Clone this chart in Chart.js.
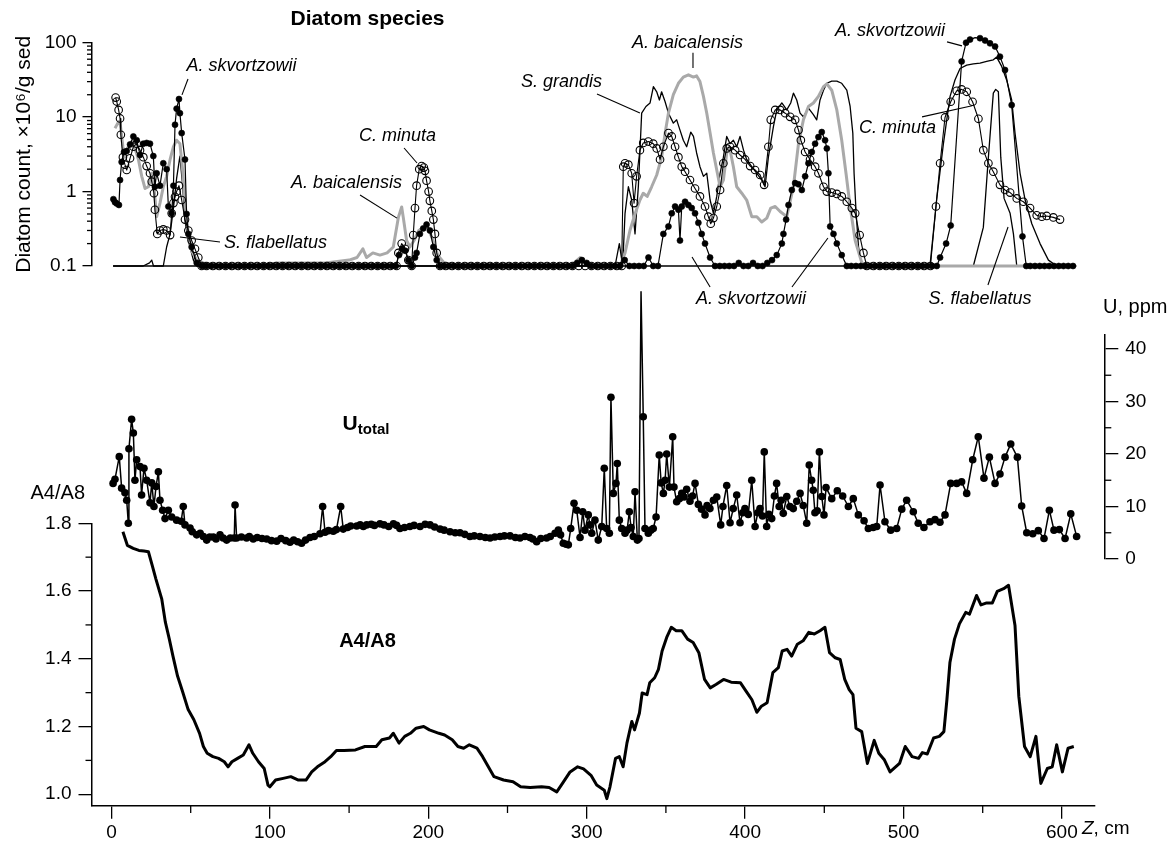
<!DOCTYPE html>
<html><head><meta charset="utf-8">
<script src="https://cdn.jsdelivr.net/npm/chart.js@4.4.0/dist/chart.umd.min.js"></script>
<style>
html,body{margin:0;padding:0;background:#fff;}
#wrap{position:relative;width:1176px;height:843px;background:#fff;}
#wrap canvas{position:absolute;left:0;top:0;}
</style></head><body>
<div id="wrap">
<canvas id="cBottom" width="1176" height="843"></canvas>
<canvas id="cU" width="1176" height="843"></canvas>
<canvas id="cTop" width="1176" height="843"></canvas>
</div>
<script>
// ---------------- DATA (depth in cm) ----------------
const skvDepth = [1.2,2.2,3.3,4.7,5.4,6.4,7.9,9.6,11.7,13.8,15.9,18.0,20.1,22.2,24.3,26.4,27.4,28.5,30.6,32.7,34.8,35.9,38.0,39.1,40.1,41.1,42.6,43.2,44.3,46.4,47.4,48.5,50.6,53.8,
57,60,63,66,69,72,75,78,81,84,87,90,93,96,99,102,105,108,111,114,117,120,123,126,129,132,135,138,141,144,147,150,153,156,159,162,165,168,171,174,177,179.5,
181.5,183.5,185.5,187.4,189.5,191.6,192.6,194.7,196.8,198.9,201,203.2,205.3,207.4,
210,213,216,219,222,225,228,231,234,237,240,243,246,249,252,255,258,261,264,267,270,273,276,279,282,285,288,291,294,297,300,303,306,309,312,315,318,321,324,327,330,333,336,339,342,345,
348.4,351.6,353.7,355.8,357.9,358.9,360,362.1,364.2,366.3,368.4,370.5,372.6,374.7,377.9,381,
384,387,390,393,396,399,402,405,408,411,414,417,420,
423.2,424.2,425.9,427.4,429.5,431.6,433.7,435.8,437.9,440,442.1,444.2,446.3,448.4,450.5,451.6,452.6,453.7,455.8,457.9,461,464.2,
467,470,473,476,479,482,485,488,491,494,497,500,503,506,509,512,515,518,521,
523.1,526.9,529.8,536.7,539.5,542,545.2,548.3,551.5,554.6,557.8,560.9,564.1,568.3,575.1,577.5,
580,583,586,589,592,595,598,601,604,607];
const skvCount = [0.79,0.72,0.69,0.66,1.43,2.5,3.4,3.5,4.3,5.5,4.9,3.1,4.4,4.5,4.4,3.0,1.16,1.76,1.2,2.4,2.0,0.63,0.51,1.2,7.9,13,17.5,11.3,6.1,2.7,0.5,0.27,0.18,0.11,
0.1,0.1,0.1,0.1,0.1,0.1,0.1,0.1,0.1,0.1,0.1,0.1,0.1,0.1,0.1,0.1,0.1,0.1,0.1,0.1,0.1,0.1,0.1,0.1,0.1,0.1,0.1,0.1,0.1,0.1,0.1,0.1,0.1,0.1,0.1,0.1,0.1,0.1,0.1,0.1,0.1,0.1,
0.14,0.17,0.16,0.12,0.1,0.13,0.15,0.27,0.32,0.36,0.3,0.18,0.12,0.1,
0.1,0.1,0.1,0.1,0.1,0.1,0.1,0.1,0.1,0.1,0.1,0.1,0.1,0.1,0.1,0.1,0.1,0.1,0.1,0.1,0.1,0.1,0.1,0.1,0.1,0.1,0.1,0.1,0.11,0.12,0.11,0.1,0.1,0.1,0.1,0.1,0.1,0.1,0.12,0.1,0.1,0.1,0.1,0.13,0.1,0.1,
0.27,0.34,0.51,0.63,0.57,0.22,0.63,0.73,0.66,0.6,0.51,0.38,0.27,0.2,0.13,0.1,
0.1,0.1,0.1,0.1,0.11,0.1,0.1,0.11,0.1,0.1,0.11,0.12,0.14,
0.2,0.27,0.42,0.66,1.05,1.3,1.25,1.05,1.6,2.4,3.4,4.4,5.4,6.3,4.9,3.8,1.76,0.34,0.27,0.2,0.14,0.1,
0.1,0.1,0.1,0.1,0.1,0.1,0.1,0.1,0.1,0.1,0.1,0.1,0.1,0.1,0.1,0.1,0.1,0.1,0.1,
0.13,0.2,0.35,56,100,110,117,115,107,98,89,65,43,14.5,0.25,0.1,
0.1,0.1,0.1,0.1,0.1,0.1,0.1,0.1,0.1,0.1];

const minDepth = [2.6,3.3,4.5,5.4,5.9,7.2,8.5,9.6,11.7,13.8,15.9,18.0,20.1,22.2,24.3,25.4,26.8,27.4,28.9,30.6,32.7,34.8,37.0,38.0,39.1,40.1,41.1,42.6,44.3,46.4,48.5,50.6,52.7,54.8,56.9,
60,64,68,72,76,80,84,88,92,96,100,104,108,112,116,120,124,128,132,136,140,144,148,152,156,160,164,168,172,176,180,
181.1,183.2,185.3,187.4,189.5,190.5,191.6,192.6,194.3,195.8,197.2,197.9,198.9,200.2,201,202.2,203.2,204.2,205.3,207.4,
211,215,219,223,227,231,235,239,243,247,251,255,259,263,267,271,275,279,283,287,291,295,299,303,307,311,315,319,
322.1,323.1,324.2,326.3,328.4,329.9,331.5,333.6,335.7,338.9,342,344.2,346.3,348.4,351.6,353.7,355.8,357.9,360,362.1,365.2,368.4,371.5,374.7,376.8,378.3,380,382.1,384.2,386.3,388.4,390.5,393.7,396.8,400,403.2,406.3,409.5,412,414.7,416.2,419,422.1,425.3,428.4,431.6,433.7,435.2,437.9,441,444.2,446.3,449.5,451.6,454.7,457.9,461,464.2,467.4,469.5,472.3,474.7,476.8,
481,485,489,493,497,501,505,509,513,517,
520.5,523.1,526.2,529.8,533.6,536.7,539.9,543.6,547.3,550.4,553.6,556.7,560.9,564.1,567.3,571.5,575.7,579.9,584.1,587.3,590.4,594.6,598.8];
const minCount = [18.3,16.2,12.5,9.6,5.8,2.9,2.3,1.95,2.8,4.0,4.4,3.6,2.9,2.2,1.76,1.36,0.95,0.57,0.27,0.3,0.31,0.3,0.26,0.51,0.7,0.85,1.0,1.2,0.77,0.42,0.3,0.22,0.17,0.13,0.1,
0.1,0.1,0.1,0.1,0.1,0.1,0.1,0.1,0.1,0.1,0.1,0.1,0.1,0.1,0.1,0.1,0.1,0.1,0.1,0.1,0.1,0.1,0.1,0.1,0.1,0.1,0.1,0.1,0.1,0.1,0.1,
0.15,0.2,0.17,0.12,0.1,0.26,0.6,1.2,2.0,2.2,2.1,1.9,1.4,1.0,0.75,0.55,0.42,0.27,0.15,0.1,
0.1,0.1,0.1,0.1,0.1,0.1,0.1,0.1,0.1,0.1,0.1,0.1,0.1,0.1,0.1,0.1,0.1,0.1,0.1,0.1,0.1,0.1,0.1,0.1,0.1,0.1,0.1,0.1,
0.1,2.16,2.4,2.3,1.76,0.7,1.6,3.6,4.5,4.7,4.4,3.8,2.7,4.0,6.1,5.5,4.0,2.9,2.16,1.85,1.43,1.1,0.86,0.63,0.46,0.37,0.44,0.63,1.05,2.4,3.8,4.0,3.6,3.1,2.7,2.2,1.95,1.67,1.23,4.0,9.2,12.5,12.5,11.3,10.1,9.2,6.7,4.9,3.4,2.7,2.16,1.76,1.16,1.0,0.97,0.93,0.86,0.73,0.6,0.51,0.26,0.15,0.1,
0.1,0.1,0.1,0.1,0.1,0.1,0.1,0.1,0.1,0.1,
0.63,2.4,9.9,16.1,22.6,23.6,21.9,16.1,9.5,3.6,2.4,1.85,1.23,1.05,0.97,0.81,0.73,0.6,0.48,0.46,0.47,0.45,0.42];

const baiDepth = [2.2,4.5,5.4,7.2,8.5,10.6,12.7,14.8,17,19.1,21.2,23.3,25.4,26.8,28.5,30.6,32.7,34.8,37,39.1,
41.1,43.2,44.9,46.4,48.5,50.6,53.8,57.9,70,90,105,120,135,150,155,158.7,161,165,169.5,174,
177.9,181.1,183.2,184.2,186.3,188.4,191,194,197,200,203,206,210,220,240,260,280,290,294,296,
298,305,321,324.2,327.3,330.5,333.6,335.7,338.2,341,344.2,347.3,349.5,351.6,354.7,357.9,361,364.2,367.4,369.4,
371.5,373.7,375.8,377.9,380,382.1,384.2,386.3,388.4,390.1,392.6,394.7,397.9,401,404.2,407.4,410.5,413.7,416.2,419,
422.1,426.3,430.5,433.7,436.8,440,443.1,446.3,449.5,451.6,454.7,457.9,461,463.7,466.3,469.5,473.7,480,500,520,
540,560,576];
const baiCount = [7.1,8.7,8.5,4.0,2.9,4.0,4.7,3.8,2.7,1.6,1.1,1.16,1.76,1.16,0.46,0.7,1.16,1.6,2.7,4.0,
4.9,4.4,1.95,0.7,0.27,0.16,0.12,0.11,0.1,0.1,0.11,0.11,0.11,0.12,0.13,0.17,0.13,0.15,0.14,0.15,
0.18,0.45,0.62,0.45,0.22,0.18,0.22,0.3,0.33,0.32,0.22,0.14,0.11,0.1,0.1,0.1,0.1,0.1,0.12,0.13,
0.11,0.1,0.1,0.15,0.3,0.5,0.77,0.95,0.86,1.16,1.67,2.9,6.1,11.3,20,28.5,34.5,37,34.5,35.8,
30,19,11.3,6.1,3.3,1.95,1.16,1.43,3.3,4.0,2.16,1.16,0.95,0.77,0.46,0.46,0.39,0.44,0.6,0.63,
0.54,0.46,1.16,4.4,9.2,13.9,15.5,19,25.7,28,23,12.5,4.9,1.76,0.63,0.22,0.11,0.1,0.1,0.1,
0.1,0.1,0.1];

const graDepth = [1,50,100,150,200,250,300,317.9,320.6,322.7,324.2,326.3,328.4,330.5,332.6,334.7,337.4,340,342.1,344.2,
345.9,347.3,349.5,351.6,354.7,356.8,358.9,361,363.1,365.7,367.4,369.4,371.5,373.7,375.8,377.9,380,382.1,384.2,386.3,
388.4,390.5,392.6,394.7,396.8,399,401,404.2,407.4,410.5,412.6,414.7,417.9,420,423.2,426.3,428.8,430.5,432.6,434.7,
436.8,440,443.1,445.2,447.3,449.5,451.6,454.7,457.9,461,464.2,466.3,468,468.8,470.1,471.6,473.7,490,516.7,520.9,
525.2,529.4,532.5,535.7,539.9,544.1,548.3,552.5,556.7,558.8,562,565.1,568.3,570.4,573.6,576.8,581,586.2,591.5,596.7,609];
const graCount = [0.1,0.1,0.1,0.1,0.1,0.1,0.1,0.1,0.2,0.1,0.51,1.16,0.77,0.27,1.16,11.3,13.9,15.5,25.7,21.9,
17,21.9,16.1,11.3,8.3,9.2,6.7,4.9,4.0,6.3,5.5,3.3,2.16,1.6,1.76,0.77,0.51,0.86,1.76,2.9,
5.5,4.4,4.9,4.0,5.5,3.6,2.7,2.16,1.76,1.43,1.16,2.9,7.5,12.5,15.5,12.5,15.5,21,17,11.3,
10.1,13.2,10.8,9.2,17,23,28.5,30.5,30.5,28.5,23,13.9,6.1,1.76,0.51,0.18,0.1,0.1,0.1,0.77,
4.4,19,31.6,45,50,52,53,56,59,64,48,31.6,17,6.1,1.76,0.77,0.37,0.2,0.12,0.1,0.1];

const flaDepth = [1,5,10,15,20,24,25.4,26.5,30,32.7,34.8,37,39.1,41.1,43.2,44.9,46.4,48.5,51.7,53.8,
100,200,300,400,500,544.1,550.4,553.6,556.7,558.2,559.9,561.4,563.5,567.3,569.4,571.5,590,609];
const flaCount = [0.1,0.1,0.1,0.1,0.1,0.11,0.12,0.1,0.1,0.1,0.18,0.27,0.6,1.5,3.0,1.2,0.4,0.22,0.12,0.1,
0.1,0.1,0.1,0.1,0.1,0.1,0.33,2.9,21,23.6,21.9,2.9,0.81,0.51,0.27,0.1,0.1,0.1];

const uDepth = [1,2.2,4.9,6.4,8.5,9.6,10.6,11,12.7,13.8,14.8,15.9,18,19,20.5,22.2,24.3,25.4,26.8,28.1,
29.6,30.6,32.3,33.8,35.9,38,41.1,44,45.3,46.4,49.6,51,53.8,56,58,60.1,62,64.3,66,68.5,
70.5,72.7,75,77.5,78,79,82,85.3,87,89.5,92,95,98,101,104.3,107,110,112.7,115,117.5,
120,122.5,125.3,128,131.6,133.3,134.8,137,140,142,144.7,146.3,149,151,154.8,157,159,161.1,164,166,
169.5,172,175,178,180,182.1,185,188.4,191,194.8,198,201.1,204,207.4,210,213.7,217,220,223,226.3,
229,232.6,236,239,242,245.3,248,251.6,255,257.9,261,264.2,266,268.4,271,274.7,277,280,282.1,283.5,
285.2,287,288.4,289.9,292,293.7,295.8,297.5,298.9,301,302,303.2,305.2,307.3,309.5,311.1,312.6,314.3,315.3,316.8,
318.5,319.3,320.6,322.1,324.2,325.5,326.9,328,329.4,330.5,332,333,334.3,335.7,336.8,338.9,340.5,342,343.8,345.8,
347,348.4,349.5,350.5,352.2,354.3,355.1,356.8,358.5,360,361.5,363.1,365.2,366.8,368.4,370.5,372.5,374.7,376,377.8,
380,382.1,384.6,386,388.4,390.5,392.5,394.7,396.8,398.5,399.9,402,404.2,406.3,408,409.4,411,412.1,413.6,415,
416.8,418.5,419.9,421.5,422.8,424.1,426.3,428.3,430.4,432.6,434.7,436.7,438.9,440.5,442,443,444.1,445.5,446.9,448.4,
449.8,451.1,454.7,458.2,461.6,465.2,468.3,471.5,475.1,477.8,480.9,483.1,485.2,488.3,491.9,495.7,498.9,502,506.2,509.3,
512.9,516.7,519.9,523,526.2,529.8,533.6,536.7,539.9,543.7,547.2,550.8,554.2,557.8,560.9,564.1,567.7,571.9,574.6,577.8,
581.6,585.1,588.7,592.1,595,598.4,602,605.6,609.3];
const uPpm = [14.4,15.2,19.5,13.5,12.6,11.2,6.8,21,26.6,24,15,18.9,17.6,12.2,17.3,15,10.7,14.5,10,13.8,
16.6,11.2,9.3,7.7,9.3,8,7.4,7.2,10,6.5,5.9,5.2,4.6,4.9,4.3,3.6,4.2,4.2,3.8,4.6,
4,3.6,4,4,10.3,4,4.2,4,4.3,3.8,4.1,3.9,3.8,3.5,3.4,3.9,3.5,3.2,3.6,3.3,
3.0,3.6,4.1,4.3,4.8,10,5.1,5.4,5.3,5.6,10,5.7,6.0,6.3,6.3,6.5,6.2,6.5,6.6,6.4,
6.7,6.5,6.2,6.7,6.4,5.8,6.0,6.2,6.4,6.2,6.6,6.5,6.1,5.7,5.5,5.2,5.0,5.0,4.7,4.3,
4.4,4.3,4.1,4.0,4.2,4.3,4.4,4.4,4.1,4.0,4.3,4.1,3.8,3.3,3.9,4.0,4.3,4.9,5.5,4.6,
3.0,2.8,2.7,5.8,10.6,9.3,4.1,9.0,5.5,8.4,6.5,4.9,7.4,3.6,6.2,17.3,5.8,4.9,30.8,12.5,
14.4,18.2,7.4,5.8,4.9,5.5,9.0,6.0,4.3,12.8,3.6,3.9,50.9,27.1,5.8,4.9,5.5,5.8,8.0,19.8,
14.5,12.5,15,20,13.7,23.3,13.7,10.9,11.5,12.5,11.8,13.3,11.0,12.0,14.4,10.4,9.5,8.4,10.2,9.6,
11.2,11.8,6.5,10,14,6.9,9.6,12.2,6.9,8.8,9.6,8.5,15,6.2,8.8,9.6,8.2,20.4,6.2,8.5,
7.7,12,14.4,10,11.2,8.7,11.9,10,9.6,11,12.5,10.2,6.8,17.9,15,13.1,8.8,9.2,20.4,11.9,
8.4,13.6,11.5,13,12,10,11.5,8.4,7.3,5.8,6.0,6.2,14.1,7.1,5.5,5.8,9.5,11.2,9.0,6.8,
6.0,7.1,7.5,7.0,8.4,14.4,14.4,14.7,12.5,18.9,23.3,15.4,19.4,14.4,16.2,19.4,21.9,19.4,10.1,5.0,
4.8,5.4,3.9,9.3,5.5,5.6,3.9,8.6,4.3];

const a48Depth = [7.2,10,13.7,17.3,20.5,23.3,25.7,28,31.7,34,36.5,38.8,41.7,44.8,48.4,52,55.6,58,60.4,64,
67.6,71.2,73.6,76,79.6,83.2,86.8,89.2,92.8,96.4,98.8,100,103.6,108.4,113.2,118,122.8,126.4,130,134.8,
138.4,142,146.8,154,160,167.1,170.7,175.5,177.9,181.5,185.1,188.7,192.3,197.1,200.7,206.7,210.3,215.1,218.7,222.3,
225.9,230.7,234.3,237.9,241.5,247.5,253.5,258.3,264.3,271.5,276.3,281.1,284.7,289.5,294.3,298,302.7,306.3,311.1,312.7,
314.7,318.2,320.6,323,325.4,328.5,330.2,333.3,335,338.1,339.8,342.9,345.3,347.6,350.5,353.4,356.5,360,363.7,367.2,
370.8,374.4,378,381.6,386.4,391.2,397.1,400.7,404.3,407.4,410.3,413.9,417.5,421,423.4,426.5,429.4,433,436.6,440.2,
443.7,447.3,450.4,453.3,456.9,460,462.9,465.7,468.1,470,473.6,477.2,481.5,484.4,488,491.5,497.5,501.1,505.4,509.5,
511.9,515,519,522.6,525.5,527.4,529.3,532.2,535.3,539.3,541.7,546.1,548.9,552.5,556.1,559.2,563.2,566.3,570.4,572.8,
576.4,580,583.6,586.7,590.8,593.9,596.7,600.3,603.9,607.5];
const a48Ratio = [1.775,1.735,1.726,1.72,1.718,1.716,1.676,1.636,1.577,1.508,1.458,1.408,1.349,1.304,1.25,1.22,1.18,1.141,1.121,1.111,
1.106,1.096,1.081,1.096,1.106,1.116,1.146,1.121,1.096,1.076,1.027,1.022,1.042,1.047,1.052,1.042,1.042,1.066,1.081,1.096,
1.111,1.129,1.129,1.131,1.141,1.141,1.161,1.166,1.18,1.151,1.171,1.18,1.195,1.2,1.19,1.18,1.175,1.161,1.141,1.136,
1.146,1.136,1.111,1.081,1.052,1.042,1.037,1.022,1.02,1.022,1.02,1.007,1.032,1.066,1.081,1.075,1.056,1.027,1.012,0.987,
1.022,1.106,1.111,1.081,1.151,1.215,1.19,1.24,1.299,1.294,1.329,1.344,1.369,1.423,1.463,1.493,1.483,1.483,1.458,1.448,
1.418,1.339,1.314,1.324,1.339,1.331,1.329,1.304,1.279,1.242,1.26,1.27,1.359,1.374,1.423,1.428,1.408,1.443,1.453,1.478,
1.473,1.483,1.493,1.418,1.403,1.398,1.339,1.309,1.294,1.195,1.185,1.091,1.159,1.121,1.101,1.066,1.091,1.141,1.111,1.106,
1.123,1.119,1.166,1.171,1.185,1.279,1.389,1.458,1.503,1.537,1.532,1.587,1.559,1.565,1.565,1.599,1.607,1.617,1.498,1.289,
1.141,1.111,1.171,1.032,1.076,1.081,1.146,1.066,1.136,1.141];

// tick values
const diatomTicks = [0.1, 1, 10, 100];
const diatomMinor = [0.2,0.3,0.4,0.5,0.6,0.7,0.8,0.9,2,3,4,5,6,7,8,9,20,30,40,50,60,70,80,90];
const uTicks = [0, 10, 20, 30, 40];
const uMinor = [5, 15, 25, 35];
const ratioTicks = [1.0, 1.2, 1.4, 1.6, 1.8];
const ratioMinor = [1.1, 1.3, 1.5, 1.7];
const depthTicks = [0, 100, 200, 300, 400, 500, 600];
const depthMinor = [50, 150, 250, 350, 450, 550];

// species labels (depth, count) and leader lines
const topLabelText = ['A. skvortzowii','C. minuta','A. baicalensis','S. flabellatus','S. grandis','A. baicalensis','A. skvortzowii','C. minuta','A. skvortzowii','S. flabellatus'];
const topLabelDepth = [82.1,180.6,148.4,103.5,284.1,363.6,491.5,496.2,403.7,548.3];
const topLabelCount = [48.8,5.59,1.31,0.204,29.7,99.3,144,7.16,0.036,0.036];
const topLeaders = [[[48.3,32.6],[44.5,19.9]],[[184.7,3.85],[192.9,2.42]],[[156.9,0.9],[180.2,0.44]],[[43.2,0.245],[68.5,0.21]],
  [[306.5,20.5],[333.6,11.4]],[[367.1,73],[367.1,45.8]],[[527.5,102.5],[536.9,90.6]],[[511.7,10.07],[543.3,14.2]],
  [[377.9,0.0522],[366.5,0.132]],[[429.6,0.0522],[452.3,0.238]],[[553.3,0.0555],[566,0.334]]];

// ---------------- LAYOUT ----------------
const W = 1176, H = 843;
const ZERO_PX = 111.5, PX_PER_CM = 1.584;
const AXIS_LEFT = 91.5, AXIS_RIGHT = 1094.3;
const TOP_AREA = {top: 42.7, bottom: 266};
const U_AREA = {top: 334.7, bottom: 559, right: 1104.3, pxPerUnit: 5.25};
const R_AREA = {top: 523.3, bottom: 806, pxPerUnit: 338.7};
const cmAt = px => (px - ZERO_PX) / PX_PER_CM;
const FONT = "'Liberation Sans', Arial, Helvetica, sans-serif";
Chart.defaults.font.family = FONT;
Chart.defaults.color = '#000';

function pairs(xs, ys) {
  if (xs.length !== ys.length) console.warn('length mismatch', xs.length, ys.length);
  return xs.map((x, i) => ({x: x, y: ys[i]}));
}

const minorTickPlugin = {
  id: 'minorTicks',
  afterDraw(chart, args, opts) {
    const ctx = chart.ctx;
    (opts.items || []).forEach(item => {
      const s = chart.scales[item.scale];
      ctx.save();
      ctx.strokeStyle = '#000';
      ctx.lineWidth = 1.3;
      item.values.forEach(v => {
        const p = s.getPixelForValue(v);
        ctx.beginPath();
        if (s.isHorizontal()) { ctx.moveTo(p, s.top); ctx.lineTo(p, s.top + item.length); }
        else if (s.position === 'left') { ctx.moveTo(s.right, p); ctx.lineTo(s.right - item.length, p); }
        else { ctx.moveTo(s.left, p); ctx.lineTo(s.left + item.length, p); }
        ctx.stroke();
      });
      ctx.restore();
    });
  }
};

const notesPlugin = {
  id: 'notes',
  afterDraw(chart, args, opts) {
    const ctx = chart.ctx, xs = chart.scales.x, ys = chart.scales.y;
    ctx.save();
    ctx.strokeStyle = '#000';
    ctx.lineWidth = 1.1;
    (opts.leaders || []).forEach(seg => {
      ctx.beginPath();
      ctx.moveTo(xs.getPixelForValue(seg[0][0]), ys.getPixelForValue(seg[0][1]));
      ctx.lineTo(xs.getPixelForValue(seg[1][0]), ys.getPixelForValue(seg[1][1]));
      ctx.stroke();
    });
    (opts.labels || []).forEach(lb => {
      const x = lb.px ? lb.x : xs.getPixelForValue(lb.x);
      const y = lb.px ? lb.y : ys.getPixelForValue(lb.y);
      ctx.textBaseline = lb.baseline || 'middle';
      ctx.textAlign = 'left';
      ctx.fillStyle = '#000';
      const parts = lb.parts || [{text: lb.text, font: lb.font}];
      let total = 0;
      const widths = parts.map(p => { ctx.font = p.font; const w = ctx.measureText(p.text).width; total += w; return w; });
      let start = lb.align === 'left' ? x : (lb.align === 'right' ? x - total : x - total / 2);
      parts.forEach((p, i) => { ctx.font = p.font; ctx.fillText(p.text, start, y + (p.dy || 0)); start += widths[i]; });
    });
    ctx.restore();
  }
};

const baseOpts = {
  responsive: false, animation: false, devicePixelRatio: 1, events: []
};
const tickFont = {size: 19, family: FONT};

// ---------------- TOP: diatoms ----------------
new Chart(document.getElementById('cTop'), {
  type: 'line',
  data: {datasets: [
    {label: 'A. skvortzowii', data: pairs(skvDepth, skvCount), borderColor: '#000', borderWidth: 1.2,
     pointRadius: 3, pointBackgroundColor: '#000', pointBorderColor: '#000', pointBorderWidth: 0.6, clip: false, borderJoinStyle: 'round'},
    {label: 'C. minuta', data: pairs(minDepth, minCount), borderColor: '#000', borderWidth: 1.1,
     pointRadius: 3.8, pointBackgroundColor: 'rgba(255,255,255,0)', pointBorderColor: '#000', pointBorderWidth: 1.1, clip: false, borderJoinStyle: 'round'},
    {label: 'A. baicalensis', data: pairs(baiDepth, baiCount), borderColor: '#a9a9a9', borderWidth: 3,
     pointRadius: 0, clip: false, borderJoinStyle: 'round'},
    {label: 'S. grandis', data: pairs(graDepth, graCount), borderColor: '#000', borderWidth: 1.3,
     pointRadius: 0, clip: false, borderJoinStyle: 'round'},
    {label: 'S. flabellatus', data: pairs(flaDepth, flaCount), borderColor: '#000', borderWidth: 1.3,
     pointRadius: 0, clip: false, borderJoinStyle: 'round'}
  ]},
  options: Object.assign({}, baseOpts, {
    layout: {autoPadding: false, padding: {left: 0, top: TOP_AREA.top, right: W - AXIS_RIGHT, bottom: H - TOP_AREA.bottom}},
    plugins: {
      legend: {display: false}, tooltip: {enabled: false},
      minorTicks: {items: [{scale: 'y', values: diatomMinor, length: 4.5}]},
      notes: {
        leaders: topLeaders,
        labels: topLabelText.map((t, i) => ({text: t, x: topLabelDepth[i], y: topLabelCount[i], font: 'italic 18px ' + FONT}))
          .concat([{text: 'Diatom species', px: true, x: 367.5, y: 19, font: 'bold 21px ' + FONT}])
      }
    },
    scales: {
      x: {type: 'linear', display: false, min: cmAt(AXIS_LEFT), max: cmAt(AXIS_RIGHT)},
      y: {type: 'logarithmic', position: 'left', min: 0.1, max: 100,
          afterFit(s) { s.width = AXIS_LEFT; },
          afterBuildTicks(s) { s.ticks = diatomTicks.map(v => ({value: v})); },
          ticks: {callback: v => String(v), font: tickFont, padding: 6, autoSkip: false, color: '#000'},
          grid: {drawOnChartArea: false, tickLength: 9, color: '#000', lineWidth: 1.3},
          border: {display: true, color: '#000', width: 1.5},
          title: {display: true, text: 'Diatom count, ×10⁶/g sed', font: {size: 21, family: FONT}, color: '#000', padding: {top: 12, bottom: 0}}
      }
    }
  }),
  plugins: [minorTickPlugin, notesPlugin]
});

// ---------------- MIDDLE: U total ----------------
new Chart(document.getElementById('cU'), {
  type: 'line',
  data: {datasets: [
    {label: 'U total', data: pairs(uDepth, uPpm), borderColor: '#000', borderWidth: 1.5,
     pointRadius: 3.8, pointBackgroundColor: '#000', pointBorderColor: '#000', pointBorderWidth: 0, clip: false, borderJoinStyle: 'round'}
  ]},
  options: Object.assign({}, baseOpts, {
    layout: {autoPadding: false, padding: {left: AXIS_LEFT, top: U_AREA.top, right: 0, bottom: H - U_AREA.bottom}},
    plugins: {
      legend: {display: false}, tooltip: {enabled: false},
      minorTicks: {items: [{scale: 'y', values: uMinor, length: 7}]},
      notes: {labels: [
        {parts: [{text: 'U', font: 'bold 21px ' + FONT}, {text: 'total', font: 'bold 15px ' + FONT, dy: 4}], x: 145.9, y: 24.6, align: 'left', baseline: 'alphabetic'},
        {text: 'U, ppm', px: true, x: 1103, y: 307, align: 'left', font: '20px ' + FONT}
      ]}
    },
    scales: {
      x: {type: 'linear', display: false, min: cmAt(AXIS_LEFT), max: cmAt(U_AREA.right)},
      y: {type: 'linear', position: 'right', min: 0, max: (U_AREA.bottom - U_AREA.top) / U_AREA.pxPerUnit,
          afterFit(s) { s.width = W - U_AREA.right; },
          afterBuildTicks(s) { s.ticks = uTicks.map(v => ({value: v})); },
          ticks: {callback: v => String(v), font: tickFont, padding: 7, autoSkip: false, color: '#000'},
          grid: {drawOnChartArea: false, tickLength: 14, color: '#000', lineWidth: 1.3},
          border: {display: true, color: '#000', width: 1.5}
      }
    }
  }),
  plugins: [minorTickPlugin, notesPlugin]
});

// ---------------- BOTTOM: A4/A8 ----------------
new Chart(document.getElementById('cBottom'), {
  type: 'line',
  data: {datasets: [
    {label: 'A4/A8', data: pairs(a48Depth, a48Ratio), borderColor: '#000', borderWidth: 3,
     pointRadius: 0, clip: false, borderJoinStyle: 'round'}
  ]},
  options: Object.assign({}, baseOpts, {
    layout: {autoPadding: false, padding: {left: 0, top: R_AREA.top, right: W - AXIS_RIGHT, bottom: 0}},
    plugins: {
      legend: {display: false}, tooltip: {enabled: false},
      minorTicks: {items: [{scale: 'y', values: ratioMinor, length: 6}, {scale: 'x', values: depthMinor, length: 7}]},
      notes: {labels: [
        {text: 'A4/A8', x: 161.6, y: 1.45, font: 'bold 20px ' + FONT},
        {text: 'A4/A8', px: true, x: 85, y: 493, align: 'right', font: '20px ' + FONT},
        {parts: [{text: 'Z', font: 'italic 19px ' + FONT}, {text: ', cm', font: '19px ' + FONT}], px: true, x: 1082, y: 829, align: 'left'}
      ]}
    },
    scales: {
      x: {type: 'linear', position: 'bottom', min: cmAt(AXIS_LEFT), max: cmAt(AXIS_RIGHT),
          afterFit(s) { s.height = H - R_AREA.bottom; },
          afterBuildTicks(s) { s.ticks = depthTicks.map(v => ({value: v})); },
          ticks: {callback: v => String(v), font: tickFont, padding: 3, autoSkip: false, maxRotation: 0, color: '#000'},
          grid: {drawOnChartArea: false, tickLength: 12.7, color: '#000', lineWidth: 1.3},
          border: {display: true, color: '#000', width: 1.5}
      },
      y: {type: 'linear', position: 'left', min: 1.8 - (R_AREA.bottom - R_AREA.top) / R_AREA.pxPerUnit, max: 1.8,
          afterFit(s) { s.width = AXIS_LEFT; },
          afterBuildTicks(s) { s.ticks = ratioTicks.map(v => ({value: v})); },
          ticks: {callback: v => Number(v).toFixed(1), font: tickFont, padding: 7, autoSkip: false, color: '#000'},
          grid: {drawOnChartArea: false, tickLength: 13, color: '#000', lineWidth: 1.3},
          border: {display: true, color: '#000', width: 1.5}
      }
    }
  }),
  plugins: [minorTickPlugin, notesPlugin]
});
</script>
</body></html>
